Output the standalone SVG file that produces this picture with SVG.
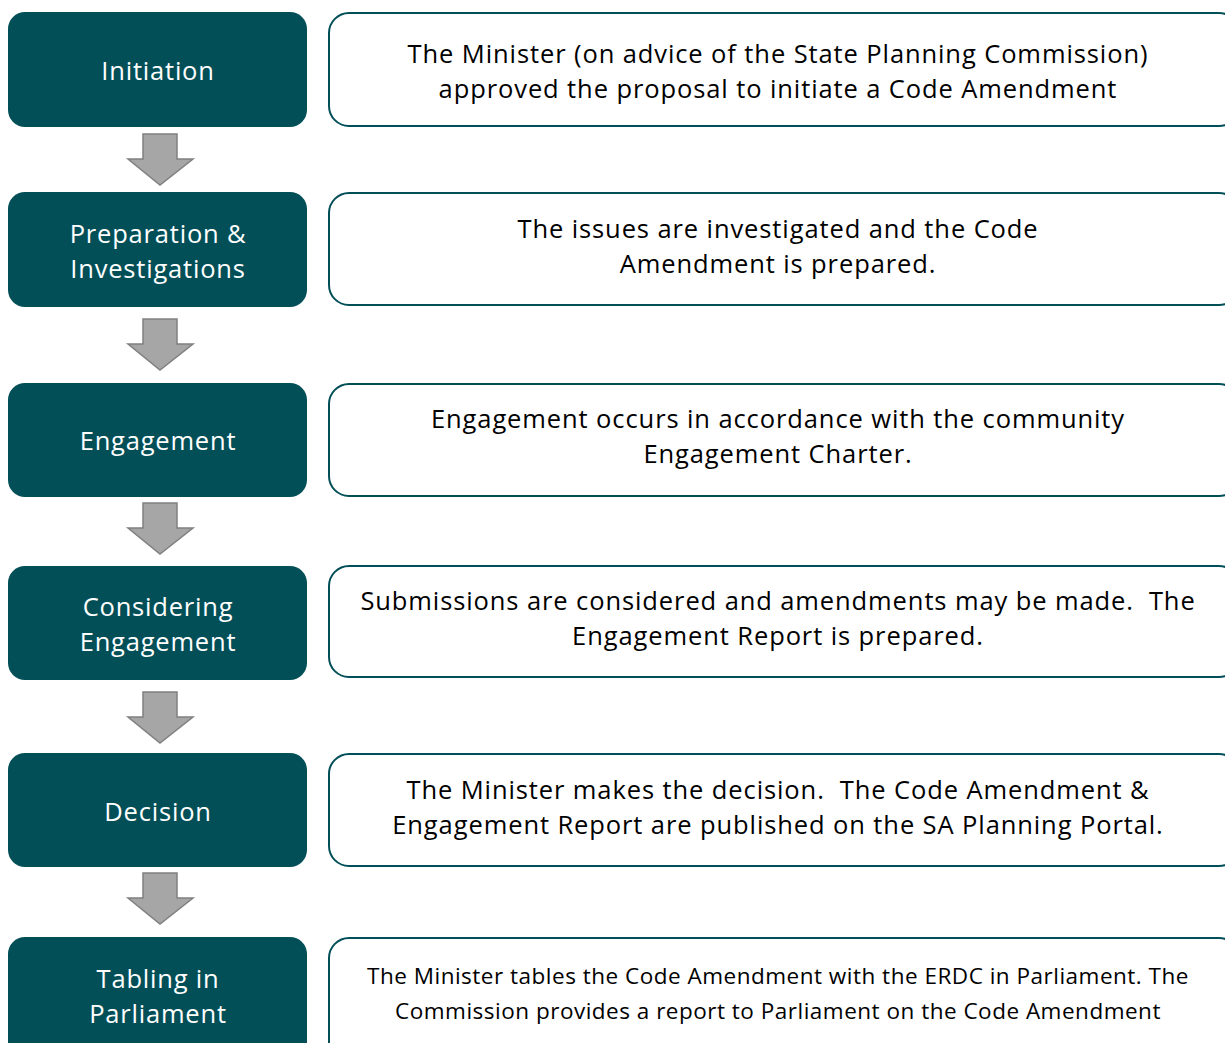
<svg xmlns="http://www.w3.org/2000/svg" width="1225" height="1043" viewBox="0 0 1225 1043">
  <style>
    .stage rect { fill: #034f58; }
    .stage text { fill: #ffffff; font-family: "Open Sans", Lato, sans-serif; font-size: 25.5px; letter-spacing: 0.8px; text-anchor: middle; }
    .desc rect { fill: #ffffff; stroke: #034f58; stroke-width: 2; }
    .desc text { fill: #000000; font-family: "Open Sans", Lato, sans-serif; font-size: 25.5px; letter-spacing: 0.9px; text-anchor: middle; white-space: pre; }
    .desc text.small { font-size: 22.5px; letter-spacing: 0.5px; }
    .arrow { fill: #a6a6a6; stroke: #808080; stroke-width: 1.5; stroke-linejoin: miter; }
  </style>
  <defs>
    <path id="down" d="M143,0 H177 V25 H193 L160,51 L128,25 H143 Z"/>
  </defs>
  <rect width="1225" height="1043" fill="#ffffff"/>

  <!-- stage boxes -->
  <g id="initiation" class="stage">
    <rect x="8" y="12" width="299" height="115" rx="17"/>
    <text x="158" y="80">Initiation</text>
  </g>
  <g id="preparation" class="stage">
    <rect x="8" y="192" width="299" height="115" rx="17"/>
    <text x="158" y="243">Preparation &amp;</text>
    <text x="158" y="278">Investigations</text>
  </g>
  <g id="engagement" class="stage">
    <rect x="8" y="383" width="299" height="114" rx="17"/>
    <text x="158" y="450">Engagement</text>
  </g>
  <g id="considering" class="stage">
    <rect x="8" y="566" width="299" height="114" rx="17"/>
    <text x="158" y="616">Considering</text>
    <text x="158" y="651">Engagement</text>
  </g>
  <g id="decision" class="stage">
    <rect x="8" y="753" width="299" height="114" rx="17"/>
    <text x="158" y="821">Decision</text>
  </g>
  <g id="tabling" class="stage">
    <rect x="8" y="937" width="299" height="130" rx="17"/>
    <text x="158" y="988">Tabling in</text>
    <text x="158" y="1023">Parliament</text>
  </g>

  <!-- description boxes -->
  <g id="initiation-desc" class="desc">
    <rect x="329" y="13" width="910" height="113" rx="20"/>
    <text x="778" y="63">The Minister (on advice of the State Planning Commission)</text>
    <text x="778" y="98">approved the proposal to initiate a Code Amendment</text>
  </g>
  <g id="preparation-desc" class="desc">
    <rect x="329" y="193" width="910" height="112" rx="20"/>
    <text x="778" y="238">The issues are investigated and the Code</text>
    <text x="778" y="273">Amendment is prepared.</text>
  </g>
  <g id="engagement-desc" class="desc">
    <rect x="329" y="384" width="910" height="112" rx="20"/>
    <text x="778" y="428">Engagement occurs in accordance with the community</text>
    <text x="778" y="463">Engagement Charter.</text>
  </g>
  <g id="considering-desc" class="desc">
    <rect x="329" y="566" width="910" height="111" rx="20"/>
    <text x="778" y="610">Submissions are considered and amendments may be made.  The</text>
    <text x="778" y="645">Engagement Report is prepared.</text>
  </g>
  <g id="decision-desc" class="desc">
    <rect x="329" y="754" width="910" height="112" rx="20"/>
    <text x="778" y="799">The Minister makes the decision.  The Code Amendment &amp;</text>
    <text x="778" y="834">Engagement Report are published on the SA Planning Portal.</text>
  </g>
  <g id="tabling-desc" class="desc">
    <rect x="329" y="938" width="910" height="130" rx="20"/>
    <text class="small" x="778" y="984">The Minister tables the Code Amendment with the ERDC in Parliament. The</text>
    <text class="small" x="778" y="1019">Commission provides a report to Parliament on the Code Amendment</text>
  </g>

  <!-- connectors between stages -->
  <g id="connectors">
    <use href="#down" class="arrow" transform="translate(0,134)"/>
    <use href="#down" class="arrow" transform="translate(0,319)"/>
    <use href="#down" class="arrow" transform="translate(0,503)"/>
    <use href="#down" class="arrow" transform="translate(0,692)"/>
    <use href="#down" class="arrow" transform="translate(0,873)"/>
  </g>
</svg>
